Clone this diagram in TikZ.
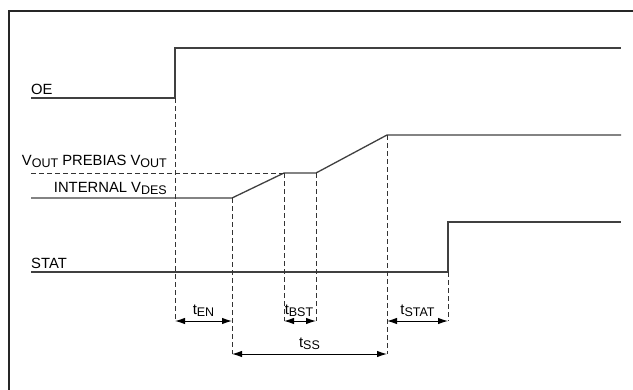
\documentclass[tikz,border=0pt]{standalone}
\usepackage{fontspec}
\setmainfont{Liberation Sans}
\usetikzlibrary{arrows.meta}
\newcommand{\lowsub}[2]{#1\raisebox{-2.5pt}{\fontsize{12.5}{12.5}\selectfont #2}}
\begin{document}
\begin{tikzpicture}[x=1pt,y=-1pt,
    wave/.style={line width=1.3pt, draw=black!75},
    guide/.style={dash pattern=on 5pt off 3pt, line width=1pt, draw=black!80},
    span/.style={{Latex[length=10pt,width=6.5pt]}-{Latex[length=10pt,width=6.5pt]}, line width=1pt},
    lbl/.style={font=\fontsize{14.8}{14.8}\selectfont, inner sep=0pt}]
    \useasboundingbox (0,0) rectangle (633,389);
    % Frame
    \draw[line width=2pt, black!85] (8.5,395) -- (8.5,10.5) -- (640,10.5);
    % Signal names
    \node[lbl, anchor=base west] (oe) at (31,94) {OE};
    \node[lbl, anchor=base east] (prebias) at (167,165) {\lowsub{V}{OUT} PREBIAS \lowsub{V}{OUT}};
    \node[lbl, anchor=base east] (internal) at (167,192) {INTERNAL \lowsub{V}{DES}};
    \node[lbl, anchor=base west] (stat) at (31,268) {STAT};
    % Waveforms
    \draw[wave] (31,98) -- (175,98) -- (175,48) -- (621,48);
    \draw[wave] (31,198) -- (232,198) -- (284,173) -- (316,173) -- (387,135) -- (621,135);
    \draw[wave] (31,272) -- (448,272) -- (448,222) -- (621,222);
    % Dashed guides
    \draw[guide] (31,173) -- (284,173);
    \coordinate (en0) at (175,321);
    \coordinate (en1) at (232,321);
    \coordinate (bst0) at (284,321);
    \coordinate (bst1) at (316,321);
    \coordinate (stat0) at (387,321);
    \coordinate (stat1) at (448,321);
    \coordinate (ss0) at (232,354);
    \coordinate (ss1) at (387,354);
    \draw[guide] (175,98) -- (en0);
    \draw[guide] (232,198) -- (ss0);
    \draw[guide] (284,173) -- (bst0);
    \draw[guide] (316,173) -- (bst1);
    \draw[guide] (387,135) -- (ss1);
    \draw[guide] (448,272) -- (stat1);
    % Timing intervals
    \draw[span] (en0) -- (en1);
    \node[lbl, anchor=base] (ten) at (203.5,314) {\lowsub{t}{EN}};
    \draw[span] (bst0) -- (bst1);
    \node[lbl, anchor=base] (tbst) at (299,314) {\lowsub{t}{BST}};
    \draw[span] (stat0) -- (stat1);
    \node[lbl, anchor=base] (tstat) at (417.5,314) {\lowsub{t}{STAT}};
    \draw[span] (ss0) -- (ss1);
    \node[lbl, anchor=base] (tss) at (309.5,347) {\lowsub{t}{SS}};
\end{tikzpicture}
\end{document}
